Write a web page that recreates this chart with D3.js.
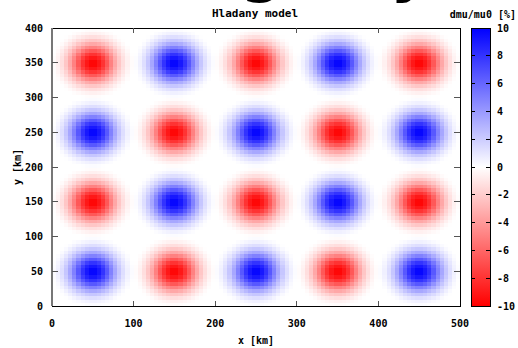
<!DOCTYPE html>
<html><head><meta charset="utf-8">
<script src="https://cdn.jsdelivr.net/npm/d3@7"></script>
<style>body{margin:0;background:#fff}svg{display:block}text{font-family:"DejaVu Sans Mono",monospace;font-weight:bold;fill:#000}</style>
</head><body><svg id="c" width="518" height="348"></svg>
<script>
// cell amplitudes [%] (rows from y=0..100 upward), cell size 100 km
const cellRows = [
  [10, -10, 10, -10, 10],   // y 0-100
  [-10, 10, -10, 10, -10],  // y 100-200
  [10, -10, 10, -10, 10],   // y 200-300
  [-10, 10, -10, 10, -10]   // y 300-400
];
// relative anomaly vs. radial distance from cell centre (0..50 km, step 5 km)
const profile = [1, 0.96, 0.87, 0.74, 0.58, 0.42, 0.28, 0.17, 0.09, 0.03, 0];
const xTicks = [0, 100, 200, 300, 400, 500];
const yTicks = [0, 50, 100, 150, 200, 250, 300, 350, 400];
const cbTicks = [10, 8, 6, 4, 2, 0, -2, -4, -6, -8, -10];
const title = "Hladany model";
const cbTitle = "dmu/mu0 [%]";
const xLabel = "x [km]", yLabel = "y [km]";

const svg = d3.select("#c");
const L = 52, R = 460, T = 28, B = 306;
const x = d3.scaleLinear().domain([0, 500]).range([L, R]);
const y = d3.scaleLinear().domain([0, 400]).range([B, T]);
const color = d3.scaleLinear().domain([-10, 0, 10]).range(["#ff0000", "#ffffff", "#0000ff"]).interpolate(d3.interpolateRgb);
const prof = d3.scaleLinear().domain(profile.map((_, i) => i * 5)).range(profile).clamp(true);

const step = 5;
const cells = [];
for (let gx = 0; gx < 500; gx += step) {
  for (let gy = 0; gy < 400; gy += step) {
    const cx = gx + step / 2, cy = gy + step / 2;
    const i = Math.floor(cx / 100), j = Math.floor(cy / 100);
    const dx = cx - (i * 100 + 50), dy = cy - (j * 100 + 50);
    cells.push({ gx, gy, v: cellRows[j][i] * prof(Math.hypot(dx, dy)) });
  }
}
svg.append("g").selectAll("rect").data(cells).join("rect")
  .attr("x", d => x(d.gx)).attr("y", d => y(d.gy + step))
  .attr("width", x(step) - x(0) + 0.5).attr("height", y(0) - y(step) + 0.5)
  .attr("fill", d => color(d.v)).attr("shape-rendering", "crispEdges");

// frame
const fr = svg.append("g").attr("shape-rendering", "crispEdges");
fr.append("rect").attr("x", L).attr("y", T).attr("width", R - L).attr("height", B - T)
  .attr("fill", "none").attr("stroke", "#000");
fr.append("line").attr("x1", L).attr("x2", L).attr("y1", T).attr("y2", B).attr("stroke", "#777").attr("stroke-width", 2);
// ticks
xTicks.slice(1, -1).forEach(t => {
  fr.append("line").attr("x1", x(t)).attr("x2", x(t)).attr("y1", B).attr("y2", B - 5).attr("stroke", "#555");
  fr.append("line").attr("x1", x(t)).attr("x2", x(t)).attr("y1", T).attr("y2", T + 5).attr("stroke", "#555");
});
yTicks.slice(1, -1).forEach(t => {
  fr.append("line").attr("x1", L).attr("x2", L + 6).attr("y1", y(t)).attr("y2", y(t)).attr("stroke", "#555");
  fr.append("line").attr("x1", R).attr("x2", R - 6).attr("y1", y(t)).attr("y2", y(t)).attr("stroke", "#555");
});
// tick labels
svg.append("g").selectAll("text").data(xTicks).join("text")
  .attr("x", d => x(d)).attr("y", 327).attr("text-anchor", "middle").attr("font-size", 10).text(d => d);
svg.append("g").selectAll("text").data(yTicks).join("text")
  .attr("x", 43).attr("y", d => y(d) + 3.5).attr("text-anchor", "end").attr("font-size", 10).text(d => d);
svg.append("text").attr("x", 256).attr("y", 344).attr("text-anchor", "middle").attr("font-size", 10).text(xLabel);
svg.append("text").attr("transform", `translate(21,${(T + B) / 2}) rotate(-90)`).attr("text-anchor", "middle").attr("font-size", 10).text(yLabel);
svg.append("text").attr("x", 255).attr("y", 17).attr("text-anchor", "middle").attr("font-size", 11).text(title);
svg.append("text").attr("x", 516).attr("y", 18).attr("text-anchor", "end").attr("font-size", 10).text(cbTitle);

// cut-off large heading above (only its descenders are visible in the reference)
svg.append("text").attr("x", 262).attr("y", -10).attr("text-anchor", "middle").attr("font-size", 60)
  .style("font-family", "DejaVu Sans").text("g");
svg.append("text").attr("x", 410).attr("y", -10).attr("text-anchor", "middle").attr("font-size", 60)
  .style("font-family", "DejaVu Sans").text("y");

// colorbar
const cbX = 471, cbW = 19;
const cy = d3.scaleLinear().domain([-10, 10]).range([B, T]);
const defs = svg.append("defs");
const grad = defs.append("linearGradient").attr("id", "cbg").attr("x1", 0).attr("x2", 0).attr("y1", 1).attr("y2", 0);
[-10, 0, 10].forEach(v => grad.append("stop").attr("offset", (v + 10) / 20).attr("stop-color", color(v)));
svg.append("rect").attr("x", cbX).attr("y", T).attr("width", cbW).attr("height", B - T)
  .attr("fill", "url(#cbg)").attr("stroke", "#000").attr("shape-rendering", "crispEdges");
const cbt = svg.append("g").attr("shape-rendering", "crispEdges");
cbTicks.slice(1, -1).forEach(t => {
  cbt.append("line").attr("x1", cbX).attr("x2", cbX + 4).attr("y1", cy(t)).attr("y2", cy(t)).attr("stroke", "#000");
  cbt.append("line").attr("x1", cbX + cbW).attr("x2", cbX + cbW - 4).attr("y1", cy(t)).attr("y2", cy(t)).attr("stroke", "#000");
});
svg.append("g").selectAll("text").data(cbTicks).join("text")
  .attr("x", 497).attr("y", d => cy(d) + 3.5).attr("font-size", 10).text(d => d);
</script></body></html>
